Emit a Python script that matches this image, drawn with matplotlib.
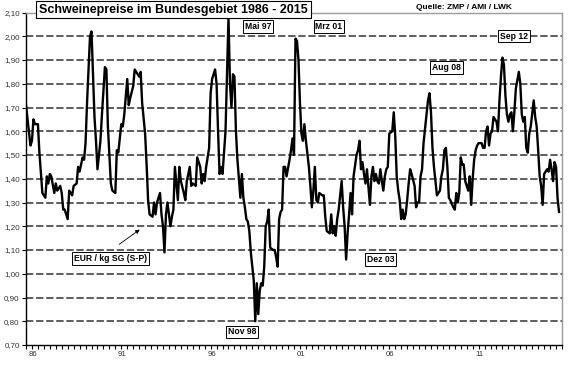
import matplotlib
matplotlib.use("Agg")
import matplotlib.pyplot as plt

plt.rcParams["font.family"] = ["Liberation Sans", "DejaVu Sans"]

# months since Jan 1986 and price in EUR / kg SG (S-P)
months = [
    0, 3, 4, 5, 6, 8, 9, 11, 13, 14, 15, 16, 17, 19, 20, 21, 23, 24, 25, 26,
    28, 29, 31, 32, 34, 35, 36, 38, 39, 40, 41, 42, 43, 44, 46, 47, 48, 50, 51, 53,
    54, 55, 57, 58, 60, 61, 62, 64, 65, 66, 68, 69, 70, 72, 73, 74, 76, 77, 78, 80,
    81, 82, 83, 85, 86, 87, 88, 90, 91, 92, 93, 94, 95, 97, 98, 99, 100, 102, 103, 104,
    106, 107, 108, 110, 111, 112, 114, 115, 117,
    118, 119, 120, 121, 123, 124, 125, 127, 128, 129, 130, 131, 132, 133, 134, 135, 136, 137, 138, 139,
    140, 141, 142, 144, 145, 146, 147, 148, 149, 150, 151, 153, 154, 155, 156, 157, 158, 159, 160, 161,
    162, 163, 164, 166, 167, 168, 169, 170, 171, 172, 173, 174, 175, 177, 178, 179, 180, 181, 182, 183,
    184, 185, 186, 187, 188, 190, 191, 192, 193, 194, 195, 196, 197, 199, 200, 201, 202, 204, 205, 206,
    207, 208, 209, 210, 212, 213, 214, 215, 216, 217, 218, 219, 220, 222, 223, 224, 225, 226, 227, 228,
    229, 231, 232, 233, 234, 235, 236, 237,
    238, 239, 240, 241, 242, 243, 244, 246, 247, 248, 249, 250, 251, 252, 253, 254, 255, 256, 257, 258,
    259, 261, 262, 263, 264, 265, 266, 267, 269, 270, 271, 272, 273, 274, 275, 276, 278, 279, 280, 281,
    282, 283, 284, 285, 287, 288, 289, 290, 291, 292, 293, 294, 295, 297, 298, 299, 300, 301, 302, 303,
    304, 306, 307, 308, 309, 310, 311, 312, 313, 314, 316, 317, 318, 319, 320, 321, 322, 323, 324, 325,
    326, 327, 328, 329, 331, 332, 333, 334, 335, 336, 337, 338, 339, 341, 342, 343, 344, 345, 346, 347,
    348, 350, 351, 352, 353, 354, 355, 356, 357, 358,
]
prices = [
    1.71, 1.54, 1.56, 1.65, 1.63, 1.63, 1.51, 1.34, 1.32, 1.41, 1.38, 1.42, 1.41, 1.34, 1.38, 1.35, 1.37, 1.34, 1.27, 1.27,
    1.23, 1.35, 1.33, 1.37, 1.38, 1.45, 1.43, 1.49, 1.48, 1.55, 1.72, 1.86, 2.00, 2.02, 1.66, 1.56, 1.44, 1.56, 1.67, 1.87,
    1.86, 1.62, 1.38, 1.35, 1.34, 1.52, 1.51, 1.63, 1.62, 1.67, 1.82, 1.71, 1.74, 1.79, 1.86, 1.85, 1.83, 1.85, 1.72, 1.59,
    1.46, 1.31, 1.25, 1.24, 1.30, 1.25, 1.30, 1.34, 1.25, 1.20, 1.09, 1.25, 1.30, 1.20, 1.24, 1.27, 1.45, 1.31, 1.45, 1.39,
    1.34, 1.31, 1.39, 1.45, 1.37, 1.38, 1.37, 1.49, 1.45,
    1.38, 1.42, 1.39, 1.45, 1.53, 1.76, 1.82, 1.86, 1.80, 1.60, 1.42, 1.45, 1.42, 1.51, 1.60, 1.84, 2.08, 1.80, 1.70, 1.84,
    1.83, 1.60, 1.48, 1.32, 1.42, 1.32, 1.28, 1.23, 1.22, 1.18, 1.09, 0.97, 0.80, 0.96, 0.83, 0.93, 0.96, 0.95, 1.03, 1.20,
    1.22, 1.27, 1.11, 1.10, 1.10, 1.07, 1.03, 1.23, 1.26, 1.27, 1.45, 1.45, 1.41, 1.48, 1.52, 1.57, 1.50, 1.99, 1.98, 1.90,
    1.72, 1.59, 1.56, 1.63, 1.56, 1.45, 1.37, 1.28, 1.35, 1.45, 1.31, 1.30, 1.34, 1.33, 1.33, 1.24, 1.18, 1.17, 1.25, 1.17,
    1.20, 1.16, 1.23, 1.27, 1.39, 1.28, 1.20, 1.06, 1.17, 1.25, 1.34, 1.25, 1.41, 1.50, 1.52, 1.56, 1.44, 1.47, 1.42, 1.38,
    1.44, 1.29, 1.41, 1.45, 1.39, 1.42, 1.39, 1.38,
    1.44, 1.39, 1.35, 1.41, 1.44, 1.45, 1.59, 1.60, 1.68, 1.58, 1.41, 1.35, 1.31, 1.23, 1.27, 1.23, 1.25, 1.31, 1.38, 1.44,
    1.42, 1.37, 1.28, 1.30, 1.30, 1.41, 1.44, 1.55, 1.67, 1.73, 1.76, 1.68, 1.53, 1.45, 1.39, 1.33, 1.35, 1.41, 1.44, 1.52,
    1.53, 1.45, 1.32, 1.31, 1.28, 1.27, 1.34, 1.30, 1.34, 1.49, 1.46, 1.46, 1.39, 1.35, 1.41, 1.29, 1.40, 1.48, 1.52, 1.54,
    1.55, 1.55, 1.53, 1.53, 1.60, 1.62, 1.54, 1.59, 1.60, 1.66, 1.64, 1.60, 1.73, 1.83, 1.91, 1.88, 1.75, 1.67, 1.64, 1.67,
    1.68, 1.60, 1.68, 1.78, 1.85, 1.80, 1.67, 1.64, 1.66, 1.53, 1.51, 1.59, 1.62, 1.73, 1.66, 1.62, 1.52, 1.41, 1.37, 1.29,
    1.42, 1.44, 1.43, 1.48, 1.44, 1.39, 1.47, 1.45, 1.32, 1.26,
]

y_ticks = [0.70, 0.80, 0.90, 1.00, 1.10, 1.20, 1.30, 1.40, 1.50, 1.60, 1.70, 1.80, 1.90, 2.00, 2.10]
year_labels = ["86", "91", "96", "01", "06", "11"]

fig = plt.figure(figsize=(5.7, 3.67), dpi=100)
ax = fig.add_axes([26 / 570, 1 - 345 / 367, 536 / 570, 332.5 / 367])
ax.set_xlim(0, 360)
ax.set_ylim(0.70, 2.10)

for v in y_ticks[1:-1]:
    ax.axhline(v, color="#333333", lw=1.1, ls=(0, (4.8, 1.8)), zorder=1)

ax.plot(months, prices, color="black", lw=1.7, zorder=3)

for side in ["left", "bottom"]:
    ax.spines[side].set_color("black")
    ax.spines[side].set_linewidth(1.0)
for side in ["top", "right"]:
    ax.spines[side].set_color("#9a9a9a")
    ax.spines[side].set_linewidth(1.0)

ax.set_yticks(y_ticks)
ax.set_yticklabels([f"{v:.2f}".replace(".", ",") for v in y_ticks])
ax.tick_params(axis="y", labelsize=5.8, labelcolor="#333333", length=3, width=0.8, pad=1.5)

ax.set_xticks([4.7 + 60 * i for i in range(len(year_labels))])
ax.set_xticklabels(year_labels)
ax.set_xticks(list(range(0, 361, 4)), minor=True)
ax.tick_params(axis="x", which="major", length=0, labelsize=5.6, labelcolor="#333333", pad=4)
ax.tick_params(axis="x", which="minor", length=3, width=0.8)

box = dict(boxstyle="square,pad=0.2", fc="white", ec="black", lw=0.7)
fig.text(39 / 570, 1 - 9.5 / 367, "Schweinepreise im Bundesgebiet 1986 - 2015",
         ha="left", va="center", fontsize=9, fontweight="bold",
         bbox=dict(boxstyle="square,pad=0.22", fc="white", ec="black", lw=0.8))
fig.text(464 / 570, 1 - 7.5 / 367, "Quelle: ZMP / AMI / LWK",
         ha="center", va="center", fontsize=6, fontweight="bold")

for label, mx, my in [("Mai 97", 155.8, 2.041), ("Mrz 01", 203.5, 2.041),
                      ("Sep 12", 327.7, 2.001), ("Aug 08", 282.4, 1.868),
                      ("Nov 98", 145.1, 0.755), ("Dez 03", 238.1, 1.060),
                      ("EUR / kg SG (S-P)", 56.7, 1.064)]:
    ax.text(mx, my, label, ha="center", va="center", fontsize=6.2,
            fontweight="bold", bbox=box, zorder=4, clip_on=False)

ax.annotate("", xy=(77.9, 1.193), xytext=(61.1, 1.117),
            arrowprops=dict(arrowstyle="-|>", color="black", lw=0.6, mutation_scale=6))

fig.savefig("out.png", dpi=100)
